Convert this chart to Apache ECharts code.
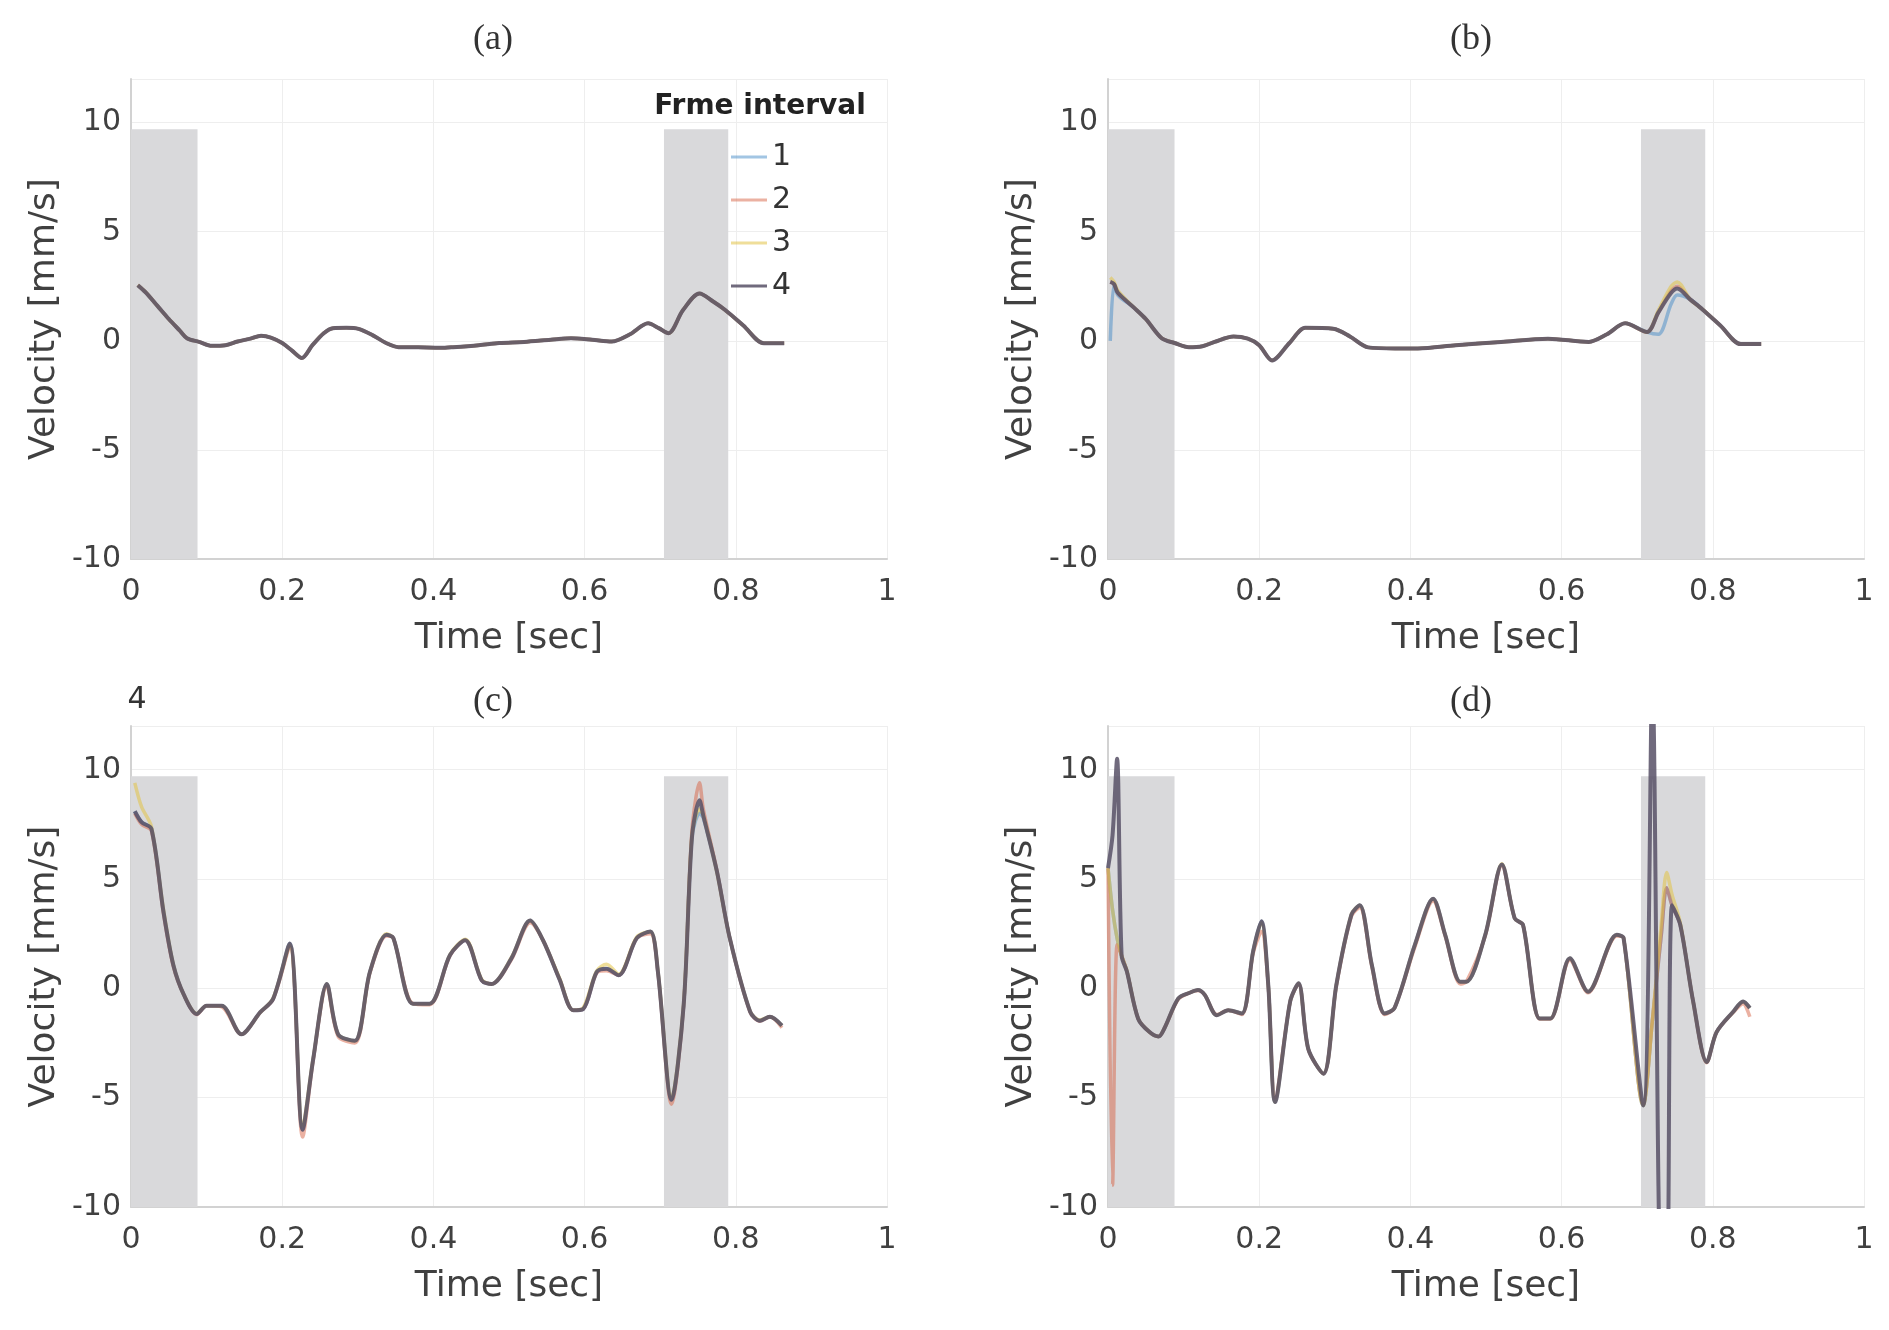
<!DOCTYPE html>
<html>
<head>
<meta charset="utf-8">
<script src="https://cdn.jsdelivr.net/npm/echarts@6/dist/echarts.min.js"></script>
<style>
  html, body { margin: 0; padding: 0; background: #fff; }
  #chart { width: 1889px; height: 1330px; }
</style>
</head>
<body>
<div id="chart"></div>
<script>
// 图例名称（帧间隔）
var seriesNames = ['1', '2', '3', '4'];
var xTicks = [0, 0.2, 0.4, 0.6, 0.8, 1];
var yTicks = [-10, -5, 0, 5, 10];
// 灰色阴影区间 [起, 止] 秒，纵向 -10 ~ 9.7
var shadeRanges = [[0, 0.088], [0.705, 0.79]];
var shadeTop = 9.7;

// (a)
var timeA = [0.009,0.02,0.035,0.05,0.065,0.074,0.09,0.107,0.125,0.141,0.158,0.172,0.185,0.2,0.213,0.226,0.24,0.255,0.267,0.285,0.301,0.32,0.338,0.354,0.38,0.41,0.426,0.46,0.487,0.52,0.555,0.582,0.61,0.636,0.66,0.684,0.698,0.711,0.73,0.752,0.77,0.786,0.81,0.837,0.864];
var velA = [2.55,2.2,1.6,1.0,0.45,0.12,-0.05,-0.23,-0.2,-0.03,0.1,0.23,0.15,-0.1,-0.45,-0.79,-0.2,0.35,0.58,0.6,0.55,0.25,-0.11,-0.29,-0.3,-0.32,-0.29,-0.2,-0.1,-0.05,0.05,0.12,0.05,-0.03,0.3,0.8,0.58,0.35,1.4,2.17,1.8,1.41,0.7,-0.11,-0.11];

// (b)
var timeB = [0.003,0.008,0.013,0.035,0.05,0.071,0.088,0.107,0.125,0.141,0.166,0.185,0.2,0.217,0.24,0.261,0.298,0.32,0.344,0.38,0.41,0.46,0.52,0.582,0.636,0.66,0.684,0.713,0.728,0.745,0.753,0.77,0.786,0.81,0.837,0.864];
var velB1 = [0.0,2.6,2.1,1.5,1.0,0.12,-0.1,-0.3,-0.25,-0.05,0.2,0.1,-0.2,-0.9,-0.1,0.6,0.55,0.2,-0.3,-0.35,-0.35,-0.2,-0.05,0.1,-0.05,0.3,0.8,0.4,0.3,1.7,2.1,1.9,1.45,0.7,-0.15,-0.15];
var velB2 = [2.7,2.6,2.2,1.5,1.0,0.12,-0.1,-0.3,-0.25,-0.05,0.2,0.1,-0.2,-0.9,-0.1,0.6,0.55,0.2,-0.3,-0.35,-0.35,-0.2,-0.05,0.1,-0.05,0.3,0.8,0.4,1.3,2.3,2.5,1.9,1.45,0.7,-0.15,-0.15];
var velB3 = [2.9,2.7,2.3,1.5,1.0,0.12,-0.1,-0.3,-0.25,-0.05,0.2,0.1,-0.2,-0.9,-0.1,0.6,0.55,0.2,-0.3,-0.35,-0.35,-0.2,-0.05,0.1,-0.05,0.3,0.8,0.4,1.4,2.5,2.7,1.9,1.45,0.7,-0.15,-0.15];
var velB4 = [2.7,2.6,2.2,1.5,1.0,0.12,-0.1,-0.3,-0.25,-0.05,0.2,0.1,-0.2,-0.9,-0.1,0.6,0.55,0.2,-0.3,-0.35,-0.35,-0.2,-0.05,0.1,-0.05,0.3,0.8,0.4,1.3,2.2,2.4,1.9,1.45,0.7,-0.15,-0.15];

// (c)
var timeC = [0.005,0.014,0.027,0.043,0.056,0.07,0.087,0.1,0.12,0.146,0.171,0.188,0.21,0.227,0.241,0.259,0.274,0.296,0.316,0.338,0.347,0.373,0.395,0.422,0.442,0.464,0.477,0.503,0.528,0.545,0.567,0.585,0.598,0.616,0.629,0.645,0.669,0.687,0.697,0.715,0.731,0.742,0.752,0.757,0.775,0.792,0.819,0.832,0.845,0.861];
var velC1 = [8.1,7.6,7.3,3.5,1.07,-0.3,-1.17,-0.8,-0.8,-2.1,-1.09,-0.48,2.05,-6.47,-3.24,0.2,-2.1,-2.4,0.75,2.45,2.3,-0.7,-0.7,1.53,2.2,0.36,0.2,1.36,3.1,2.2,0.4,-1.0,-0.95,0.75,0.9,0.6,2.3,2.6,0.75,-5.1,-0.78,6.9,8.0,7.8,5.35,2.3,-1.07,-1.48,-1.3,-1.7];
var velC2 = [8.0,7.5,7.2,3.4,1.0,-0.3,-1.2,-0.8,-0.85,-2.1,-1.1,-0.5,1.9,-6.8,-3.3,0.1,-2.2,-2.5,0.7,2.4,2.3,-0.7,-0.75,1.5,2.2,0.35,0.2,1.3,3.0,2.2,0.4,-1.0,-0.95,0.7,0.8,0.6,2.3,2.5,0.7,-5.3,-0.8,7.2,9.4,8.2,5.4,2.3,-1.1,-1.5,-1.3,-1.8];
var velC3 = [9.4,8.3,7.4,3.6,1.1,-0.3,-1.15,-0.8,-0.8,-2.1,-1.1,-0.45,2.0,-6.3,-3.2,0.2,-2.1,-2.4,0.75,2.5,2.3,-0.7,-0.7,1.55,2.25,0.4,0.2,1.4,3.1,2.2,0.45,-1.0,-0.9,0.8,1.1,0.65,2.35,2.6,0.8,-5.0,-0.7,7.0,8.2,7.9,5.3,2.3,-1.05,-1.45,-1.3,-1.7];
var velC4 = [8.1,7.6,7.3,3.5,1.07,-0.3,-1.17,-0.8,-0.8,-2.1,-1.09,-0.48,2.05,-6.47,-3.24,0.2,-2.1,-2.4,0.75,2.45,2.3,-0.7,-0.7,1.53,2.2,0.36,0.2,1.36,3.1,2.2,0.4,-1.0,-0.95,0.75,0.9,0.6,2.3,2.6,0.75,-5.1,-0.78,6.9,8.6,7.9,5.35,2.3,-1.07,-1.48,-1.3,-1.7];

// (d)
var timeD = [0.0,0.006,0.012,0.018,0.025,0.04,0.055,0.067,0.075,0.093,0.108,0.119,0.128,0.144,0.159,0.177,0.192,0.203,0.212,0.221,0.241,0.252,0.265,0.285,0.302,0.322,0.333,0.349,0.366,0.379,0.406,0.43,0.446,0.466,0.474,0.499,0.521,0.538,0.549,0.571,0.585,0.611,0.635,0.673,0.682,0.708,0.72,0.732,0.739,0.746,0.757,0.774,0.792,0.805,0.827,0.84,0.849];
var velD1 = [5.5,3.6,2.3,1.5,0.77,-1.4,-2.0,-2.2,-1.8,-0.46,-0.2,-0.08,-0.3,-1.23,-1.0,-1.15,1.7,3.07,0.15,-5.2,-0.6,0.23,-2.78,-3.9,0.15,3.37,3.8,1.07,-1.15,-0.9,2.0,4.1,2.45,0.3,0.3,2.45,5.67,3.2,2.9,-1.38,-1.38,1.38,-0.15,2.45,2.3,-5.36,-1.5,2.5,4.6,3.8,2.9,-0.6,-3.37,-2.0,-1.07,-0.6,-0.9];
var velD2 = [5.5,-9.0,2.0,1.5,0.77,-1.4,-2.0,-2.2,-1.8,-0.5,-0.2,-0.1,-0.3,-1.2,-1.0,-1.2,1.6,2.6,0.1,-5.0,-0.6,0.2,-2.8,-3.9,0.1,3.3,3.7,1.0,-1.2,-0.9,1.9,4.0,2.4,0.2,0.3,2.4,5.6,3.2,2.9,-1.4,-1.4,1.3,-0.2,2.4,2.3,-5.3,-1.5,2.5,4.6,3.8,2.9,-0.6,-3.4,-2.0,-1.1,-0.7,-1.3];
var velD3 = [5.5,3.6,2.3,1.5,0.8,-1.4,-2.0,-2.2,-1.8,-0.46,-0.2,-0.08,-0.3,-1.23,-1.0,-1.15,1.7,3.0,0.15,-5.2,-0.6,0.23,-2.78,-3.9,0.15,3.4,3.8,1.07,-1.15,-0.9,2.0,4.1,2.45,0.3,0.3,2.45,5.7,3.2,2.9,-1.38,-1.38,1.38,-0.15,2.45,2.3,-5.36,-1.5,3.0,5.3,4.3,3.0,-0.6,-3.37,-2.0,-1.07,-0.6,-0.9];
var velD4 = [5.5,7.0,10.5,1.5,0.77,-1.4,-2.0,-2.2,-1.8,-0.46,-0.2,-0.08,-0.3,-1.23,-1.0,-1.15,1.7,3.07,0.15,-5.2,-0.6,0.23,-2.78,-3.9,0.15,3.37,3.8,1.07,-1.15,-0.9,2.0,4.1,2.45,0.3,0.3,2.45,5.67,3.2,2.9,-1.38,-1.38,1.38,-0.15,2.45,2.3,-5.36,14,-14,-14,3.8,2.9,-0.6,-3.37,-2.0,-1.07,-0.6,-0.9];

var panels = [
    {label: '(a)', time: timeA, vel: [velA, velA, velA, velA]},
    {label: '(b)', time: timeB, vel: [velB1, velB2, velB3, velB4]},
    {label: '(c)', time: timeC, vel: [velC1, velC2, velC3, velC4]},
    {label: '(d)', time: timeD, vel: [velD1, velD2, velD3, velD4]}
];

var lineColors = ['rgba(70,140,200,0.5)', 'rgba(215,100,70,0.5)', 'rgba(225,195,70,0.55)', 'rgba(88,82,104,0.86)'];
var textColor = '#404040';
var sansFont = 'DejaVu Sans';

// 四个子图的位置
var gridBoxes = [
    {left: 131, top: 79, width: 756, height: 480},
    {left: 1108, top: 79, width: 756, height: 480},
    {left: 131, top: 726, width: 756, height: 481},
    {left: 1108, top: 726, width: 756, height: 481}
];
var titlePos = [[493, 40], [1471, 40], [493, 702], [1471, 702]];

function pts(t, v) {
    return t.map(function (x, i) { return [x, v[i]]; });
}

var grids = [], xAxes = [], yAxes = [], series = [], graphics = [];

panels.forEach(function (p, k) {
    grids.push(gridBoxes[k]);
    xAxes.push({
        type: 'value', gridIndex: k, min: xTicks[0], max: xTicks[xTicks.length - 1], interval: 0.2,
        name: 'Time [sec]', nameLocation: 'middle', nameGap: 62,
        nameTextStyle: {fontFamily: sansFont, fontSize: 36, color: textColor},
        axisLine: {onZero: false, lineStyle: {color: '#d2d2d2', width: 2}},
        axisTick: {show: false},
        axisLabel: {fontFamily: sansFont, fontSize: 30, color: textColor, margin: 18},
        splitLine: {show: true, lineStyle: {color: '#eeeeee', width: 1}}
    });
    yAxes.push({
        type: 'value', gridIndex: k, min: yTicks[0], max: 12, interval: 5,
        name: 'Velocity [mm/s]', nameLocation: 'middle', nameGap: 68,
        nameTextStyle: {fontFamily: sansFont, fontSize: 36, color: textColor},
        axisLine: {show: true, onZero: false, lineStyle: {color: '#d2d2d2', width: 2}},
        axisTick: {show: false},
        axisLabel: {
            fontFamily: sansFont, fontSize: 30, color: textColor, margin: 10,
            formatter: function (v) { return yTicks.indexOf(v) >= 0 ? String(v) : ''; }
        },
        splitLine: {show: true, lineStyle: {color: '#eeeeee', width: 1}}
    });
    // 阴影
    series.push({
        type: 'line', name: 'shade' + k, xAxisIndex: k, yAxisIndex: k, data: [], z: 1,
        silent: true,
        markArea: {
            silent: true,
            itemStyle: {color: '#d9d9db'},
            data: shadeRanges.map(function (r) {
                return [{xAxis: r[0], yAxis: yTicks[0]}, {xAxis: r[1], yAxis: shadeTop}];
            })
        }
    });
    p.vel.forEach(function (v, j) {
        series.push({
            type: 'line', name: seriesNames[j], xAxisIndex: k, yAxisIndex: k,
            data: pts(p.time, v), showSymbol: false, symbol: 'none', z: 2 + j,
            clip: true, smooth: 0.3,
            lineStyle: {color: lineColors[j], width: j === 3 ? 4 : 3.5},
            itemStyle: {color: lineColors[j]}
        });
    });
    graphics.push({
        type: 'text', x: titlePos[k][0], y: titlePos[k][1],
        style: {text: p.label, align: 'center', verticalAlign: 'middle',
                font: '36px "Liberation Serif"', fill: '#333'}
    });
});

graphics.push({
    type: 'text', x: 760, y: 107,
    style: {text: 'Frme interval', align: 'center', verticalAlign: 'middle',
            font: 'bold 28px "DejaVu Sans"', fill: '#222'}
});
graphics.push({
    type: 'text', x: 137, y: 700,
    style: {text: '4', align: 'center', verticalAlign: 'middle',
            font: '30px "DejaVu Sans"', fill: '#333'}
});

var chart = echarts.init(document.getElementById('chart'));
chart.setOption({
    animation: false,
    backgroundColor: '#ffffff',
    grid: grids,
    xAxis: xAxes,
    yAxis: yAxes,
    legend: {
        data: seriesNames, orient: 'vertical', left: 726, top: 137,
        icon: 'rect', itemWidth: 36, itemHeight: 3, itemGap: 13,
        textStyle: {fontFamily: sansFont, fontSize: 30, color: '#333'},
        selectedMode: false
    },
    graphic: graphics,
    series: series
});
</script>
</body>
</html>
